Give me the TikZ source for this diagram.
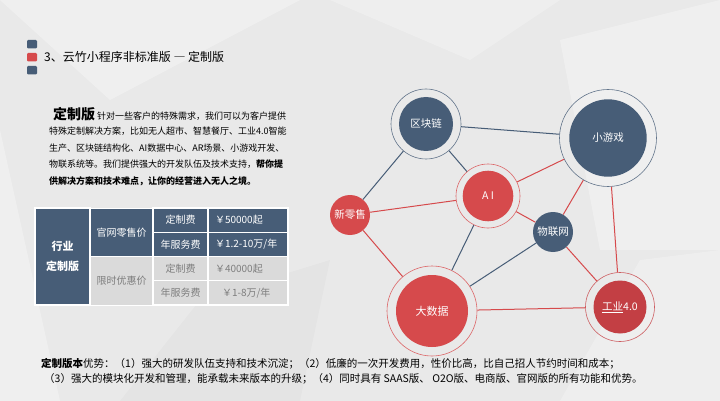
\documentclass[tikz,border=0pt]{standalone}
\usepackage{fontspec}
\setmainfont{Noto Sans CJK SC}
\usepackage{tikz}
\usetikzlibrary{positioning}
\definecolor{YZblue}{HTML}{475D77}
\definecolor{YZred}{HTML}{D64A4C}
\definecolor{YZdeepred}{HTML}{C33F44}
\definecolor{YZgrey}{HTML}{DADADA}
\definecolor{YZtext}{HTML}{7E7E7E}
\definecolor{YZbg}{HTML}{E9E9E9}

\begin{document}
\begin{tikzpicture}[x=1pt, y=-1pt,
    hub/.style n args={3}{circle, draw=#1!85!white, line width=0.6pt,
      minimum size=#2, inner sep=0pt, text=white,
      font=\fontsize{10.5}{10.5}\selectfont,
      path picture={\fill[#1] (path picture bounding box.center) circle (#3);}},
    dot/.style={circle, fill=#1, minimum size=40pt, inner sep=0pt,
      text=white, font=\fontsize{10.5}{10.5}\selectfont},
    bluelink/.style={YZblue, line width=1pt},
    redlink/.style={YZred, line width=1pt},
    cell/.style={draw=white, line width=1.2pt, fill=YZblue, text=white,
      inner sep=0pt, font=\fontsize{10}{10}\selectfont},
    softcell/.style={cell, fill=YZgrey, text=YZtext},
    marker/.style={fill=#1, rounded corners=1.2pt}
  ]
  \fill[YZbg] (0,0) rectangle (720,401);
  \useasboundingbox (0,0) rectangle (720,401);
  \fill[white, opacity=0.3] (0,0) -- (300,0) -- (110,100) -- cycle;
  \fill[white, opacity=0.25] (330,0) -- (560,0) -- (470,60) -- cycle;
  \fill[white, opacity=0.3] (560,40) -- (720,0) -- (720,250) -- (600,250) -- cycle;
  \fill[white, opacity=0.25] (640,260) -- (720,250) -- (720,401) -- (560,401) -- cycle;
  \fill[white, opacity=0.3] (0,130) -- (60,401) -- (0,401) -- cycle;
  \fill[black, opacity=0.02] (200,300) -- (330,260) -- (300,401) -- (120,401) -- cycle;

  \fill[marker=YZblue] (27,40) rectangle (37,48.5);
  \fill[marker=YZred] (27,53) rectangle (37,61.5);
  \fill[marker=YZblue] (27,66) rectangle (37,74.5);
  \node[anchor=west, inner sep=0pt, font=\fontsize{12}{12}\selectfont] (title) at (44,57)
    {3、云竹小程序非标准版 {\addfontfeatures{RawFeature=+fwid}—} 定制版};

  \node[anchor=north west, align=left, inner sep=0pt,
    font=\fontsize{9}{16.6}\selectfont] (intro) at (49,107)
    {\hspace{4pt}{\fontsize{14}{14}\selectfont\bfseries 定制版} 针对一些客户的特殊需求，我们可以为客户提供\\[-1.5pt]
     特殊定制解决方案，比如无人超市、智慧餐厅、工业4.0智能\\
     生产、区块链结构化、AI数据中心、AR场景、小游戏开发、\\
     物联系统等。我们提供强大的开发队伍及技术支持，\textbf{帮你提}\\
     \textbf{供解决方案和技术难点，让你的经营进入无人之境。}};

  \node[cell, minimum width=55pt, minimum height=97pt, align=center,
    font=\fontsize{11}{20}\selectfont\bfseries] (trade) at (62.5,256.5) {行业\\定制版};
  \node[cell, minimum width=63pt, minimum height=48.5pt] (retail) at (121.5,232.5) {官网零售价};
  \node[softcell, minimum width=63pt, minimum height=48.5pt] (promo) at (121.5,281) {限时优惠价};
  \node[cell, minimum width=55pt, minimum height=24.25pt] (fee1) at (180.5,220.1) {定制费};
  \node[cell, minimum width=55pt, minimum height=24.25pt] (year1) at (180.5,244.4) {年服务费};
  \node[softcell, minimum width=55pt, minimum height=24.25pt] (fee2) at (180.5,268.6) {定制费};
  \node[softcell, minimum width=55pt, minimum height=24.25pt] (year2) at (180.5,292.9) {年服务费};
  \node[cell, minimum width=80pt, minimum height=24.25pt, text width=66pt, align=left] (price1) at (248,220.1) {￥50000起};
  \node[cell, minimum width=80pt, minimum height=24.25pt, text width=66pt, align=left] (price2) at (248,244.4) {￥1.2-10万/年};
  \node[softcell, minimum width=80pt, minimum height=24.25pt, text width=66pt, align=left] (price3) at (248,268.6) {￥40000起};
  \node[softcell, minimum width=80pt, minimum height=24.25pt, text width=66pt, align=left] (price4) at (248,292.9) {\hspace{7pt}￥1-8万/年};

  \node[hub={YZblue}{70pt}{27pt}] (chain) at (426,124) {区块链};
  \node[hub={YZblue}{97pt}{38.7pt}] (game) at (608,138) {小游戏};
  \node[hub={YZred}{64pt}{25.3pt}] (ai) at (488,196) {A I};
  \node[dot=YZred] (shop) at (350,215) {新零售};
  \node[dot=YZblue] (iot) at (553,232) {物联网};
  \node[hub={YZred}{90pt}{36pt}, font=\fontsize{11}{11}\selectfont] (data) at (432,311) {大数据};
  \node[hub={YZdeepred}{69pt}{26.5pt}] (factory) at (620,307) {\underline{工业}4.0};

  \draw[bluelink] (chain) -- (game);
  \draw[bluelink] (chain) -- (shop);
  \draw[bluelink] (chain) -- (ai);
  \draw[redlink] (shop) -- (ai);
  \draw[redlink] (shop) -- (data);
  \draw[redlink] (ai) -- (game);
  \draw[redlink] (ai) -- (iot);
  \draw[bluelink] (ai) -- (data);
  \draw[redlink] (game) -- (iot);
  \draw[redlink] (game) -- (factory);
  \draw[bluelink] (iot) -- (data);
  \draw[redlink] (iot) -- (factory);
  \draw[redlink] (data) -- (factory);

  \node[anchor=north west, align=left, inner sep=0pt,
    font=\fontsize{10.5}{15}\selectfont] (merits) at (41,358)
    {\textbf{定制版本}优势：（1）强大的研发队伍支持和技术沉淀；（2）低廉的一次开发费用，性价比高，比自己招人节约时间和成本；\\
     \hspace{3pt}（3）强大的模块化开发和管理，能承载未来版本的升级；（4）同时具有 SAAS版、 O2O版、电商版、官网版的所有功能和优势。};
\end{tikzpicture}
\end{document}
